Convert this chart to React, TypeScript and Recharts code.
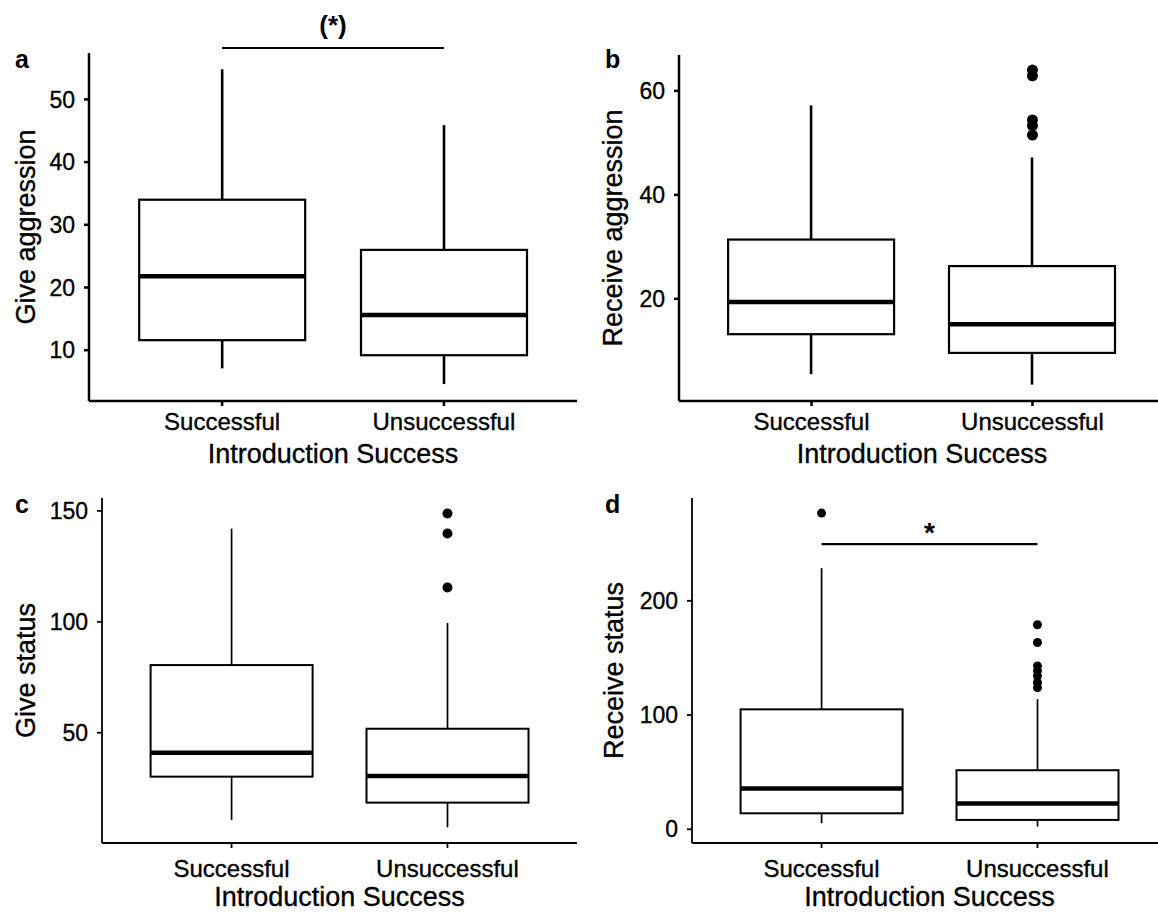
import React from 'react';
import { ComposedChart, Bar, Scatter, XAxis, YAxis, ReferenceLine, Label } from 'recharts';

const categories = ['Successful', 'Unsuccessful'];

// a: Give aggression
const giveAggressionLow = [7.1, 4.6];
const giveAggressionQ1 = [11.6, 9.2];
const giveAggressionMedian = [21.8, 15.6];
const giveAggressionQ3 = [34.0, 26.0];
const giveAggressionHigh = [54.8, 45.9];
const giveAggressionOutliers: number[][] = [[], []];
const giveAggressionTicks = [10, 20, 30, 40, 50];

// b: Receive aggression
const receiveAggressionLow = [5.5, 3.5];
const receiveAggressionQ1 = [13.2, 9.6];
const receiveAggressionMedian = [19.4, 15.1];
const receiveAggressionQ3 = [31.4, 26.3];
const receiveAggressionHigh = [57.2, 47.2];
const receiveAggressionOutliers: number[][] = [[], [64.0, 62.9, 54.4, 53.3, 51.5]];
const receiveAggressionTicks = [20, 40, 60];

// c: Give status
const giveStatusLow = [10.7, 7.4];
const giveStatusQ1 = [30.2, 18.5];
const giveStatusMedian = [41.0, 30.5];
const giveStatusQ3 = [80.5, 51.8];
const giveStatusHigh = [142.0, 99.5];
const giveStatusOutliers: number[][] = [[], [148.8, 139.8, 115.5]];
const giveStatusTicks = [50, 100, 150];

// d: Receive status
const receiveStatusLow = [5.3, 2.3];
const receiveStatusQ1 = [14.0, 8.2];
const receiveStatusMedian = [35.6, 22.5];
const receiveStatusQ3 = [105.0, 51.7];
const receiveStatusHigh = [228.6, 113.9];
const receiveStatusOutliers: number[][] = [[276.8], [179.0, 163.5, 143.0, 138.7, 134.3, 128.5, 124.0]];
const receiveStatusTicks = [0, 100, 200];

const FONT = '"Liberation Sans", Arial, Helvetica, sans-serif';

function buildStats(low: number[], q1: number[], med: number[], q3: number[], high: number[]) {
  return categories.map((name, i) => ({
    x: i + 1,
    name,
    low: low[i],
    q1: q1[i],
    median: med[i],
    q3: q3[i],
    high: high[i],
  }));
}

function buildOutliers(out: number[][]) {
  const res: { x: number; y: number }[] = [];
  out.forEach((arr, i) => arr.forEach((v) => res.push({ x: i + 1, y: v })));
  return res;
}

function makeBoxShape(whiskerW: number, boxW: number, medianW: number) {
  return (props: any) => {
    const { x, y, width, height } = props;
    const p = props.payload ?? props;
    const { low, high, q1, median, q3 } = p;
    const yTop = Math.min(y, y + height);
    const yBot = Math.max(y, y + height);
    const pix = (v: number) => yBot - ((yBot - yTop) * (v - low)) / (high - low);
    const cx = x + width / 2;
    return (
      <g>
        <line x1={cx} x2={cx} y1={pix(high)} y2={pix(q3)} stroke="#000" strokeWidth={whiskerW} />
        <line x1={cx} x2={cx} y1={pix(q1)} y2={pix(low)} stroke="#000" strokeWidth={whiskerW} />
        <rect x={x} y={pix(q3)} width={width} height={pix(q1) - pix(q3)} fill="#fff" stroke="#000" strokeWidth={boxW} />
        <line x1={x} x2={x + width} y1={pix(median)} y2={pix(median)} stroke="#000" strokeWidth={medianW} />
      </g>
    );
  };
}

type Sig = { y: number; text: string; offset: number; fontSize: number };

type PanelProps = {
  left: number;
  top: number;
  width: number;
  height: number;
  marginTop: number;
  marginRight: number;
  yAxisWidth: number;
  xAxisHeight: number;
  domain: [number, number];
  ticks: number[];
  stats: any[];
  outliers: { x: number; y: number }[];
  yTitle: string;
  yTitleOffset: number;
  xTitleOffset: number;
  xTickMargin: number;
  axisW: number;
  boxW: number;
  whiskerW: number;
  dotR: number;
  sig?: Sig;
};

function Panel(p: PanelProps) {
  const heavy = { stroke: '#000', strokeWidth: 0.35 };
  const tickStyle = { fill: '#000', fontSize: 23, fontFamily: FONT, ...heavy };
  const xTickStyle = { fill: '#000', fontSize: 24, fontFamily: FONT, ...heavy };
  const titleStyle = { fill: '#000', fontSize: 27, fontFamily: FONT, textAnchor: 'middle' as const, ...heavy };
  return (
    <div style={{ position: 'absolute', left: p.left, top: p.top }}>
      <ComposedChart
        width={p.width}
        height={p.height}
        data={p.stats}
        margin={{ top: p.marginTop, right: p.marginRight, bottom: 0, left: 0 }}
      >
        <XAxis
          type="number"
          dataKey="x"
          domain={[0.4, 2.6]}
          ticks={[1, 2]}
          allowDataOverflow
          tickFormatter={(v: number) => categories[Math.round(v) - 1]}
          height={p.xAxisHeight}
          axisLine={{ stroke: '#000', strokeWidth: p.axisW }}
          tickLine={{ stroke: '#000', strokeWidth: p.axisW }}
          tickSize={5}
          tickMargin={p.xTickMargin}
          tick={xTickStyle}
          interval={0}
        >
          <Label value="Introduction Success" position="insideBottom" offset={p.xTitleOffset} style={titleStyle} />
        </XAxis>
        <YAxis
          type="number"
          domain={p.domain}
          ticks={p.ticks}
          allowDataOverflow
          width={p.yAxisWidth}
          axisLine={{ stroke: '#000', strokeWidth: p.axisW }}
          tickLine={{ stroke: '#000', strokeWidth: p.axisW }}
          tickSize={5}
          tickMargin={9}
          tick={tickStyle}
          interval={0}
        >
          <Label value={p.yTitle} angle={-90} position="insideLeft" offset={p.yTitleOffset} style={titleStyle} />
        </YAxis>
        <Bar
          dataKey={(d: any) => [d.low, d.high]}
          barSize={Math.round(0.75 * ((p.width - p.marginRight - p.yAxisWidth) / 2.2))}
          shape={makeBoxShape(p.whiskerW, p.boxW, 4.5)}
          isAnimationActive={false}
        />
        <Scatter
          data={p.outliers}
          dataKey="y"
          isAnimationActive={false}
          shape={(s: any) => <circle cx={s.cx} cy={s.cy} r={p.dotR} fill="#000" />}
        />
        {p.sig && (
          <ReferenceLine
            segment={[{ x: 1, y: p.sig.y }, { x: 2, y: p.sig.y }]}
            stroke="#000"
            strokeWidth={2.2}
            ifOverflow="visible"
          >
            <Label
              value={p.sig.text}
              position="top"
              offset={p.sig.offset}
              style={{ fill: '#000', fontSize: p.sig.fontSize, fontWeight: 'bold', fontFamily: FONT }}
            />
          </ReferenceLine>
        )}
      </ComposedChart>
    </div>
  );
}

export default function App() {
  const letterStyle = { fontFamily: FONT, fontWeight: 'bold' as const, fontSize: 25, fill: '#000' };
  return (
    <div
      style={{
        position: 'absolute',
        left: 0,
        top: 0,
        width: 1158,
        height: 916,
        overflow: 'hidden',
        background: '#fff',
        fontFamily: FONT,
      }}
    >
      <Panel
        left={0}
        top={0}
        width={579}
        height={470}
        marginTop={53}
        marginRight={2}
        yAxisWidth={89}
        xAxisHeight={69}
        domain={[1.9, 57.4]}
        ticks={giveAggressionTicks}
        stats={buildStats(giveAggressionLow, giveAggressionQ1, giveAggressionMedian, giveAggressionQ3, giveAggressionHigh)}
        outliers={buildOutliers(giveAggressionOutliers)}
        yTitle="Give aggression"
        yTitleOffset={25}
        xTitleOffset={7}
        xTickMargin={7}
        axisW={2.5}
        boxW={2.2}
        whiskerW={2.6}
        dotR={5}
        sig={{ y: 58.2, text: '(*)', offset: 14, fontSize: 26 }}
      />
      <Panel
        left={579}
        top={0}
        width={586}
        height={470}
        marginTop={55}
        marginRight={0}
        yAxisWidth={100}
        xAxisHeight={69}
        domain={[0.35, 66.9]}
        ticks={receiveAggressionTicks}
        stats={buildStats(receiveAggressionLow, receiveAggressionQ1, receiveAggressionMedian, receiveAggressionQ3, receiveAggressionHigh)}
        outliers={buildOutliers(receiveAggressionOutliers)}
        yTitle="Receive aggression"
        yTitleOffset={33}
        xTitleOffset={7}
        xTickMargin={7}
        axisW={2.5}
        boxW={2.2}
        whiskerW={2.6}
        dotR={5.5}
      />
      <Panel
        left={0}
        top={470}
        width={579}
        height={446}
        marginTop={28}
        marginRight={2}
        yAxisWidth={102}
        xAxisHeight={73}
        domain={[0.3, 155.8]}
        ticks={giveStatusTicks}
        stats={buildStats(giveStatusLow, giveStatusQ1, giveStatusMedian, giveStatusQ3, giveStatusHigh)}
        outliers={buildOutliers(giveStatusOutliers)}
        yTitle="Give status"
        yTitleOffset={25}
        xTitleOffset={10}
        xTickMargin={12}
        axisW={1.8}
        boxW={2}
        whiskerW={1.7}
        dotR={5}
      />
      <Panel
        left={579}
        top={470}
        width={588}
        height={446}
        marginTop={28}
        marginRight={0}
        yAxisWidth={113}
        xAxisHeight={73}
        domain={[-12, 290]}
        ticks={receiveStatusTicks}
        stats={buildStats(receiveStatusLow, receiveStatusQ1, receiveStatusMedian, receiveStatusQ3, receiveStatusHigh)}
        outliers={buildOutliers(receiveStatusOutliers)}
        yTitle="Receive status"
        yTitleOffset={34}
        xTitleOffset={10}
        xTickMargin={12}
        axisW={1.8}
        boxW={2}
        whiskerW={1.7}
        dotR={4.5}
        sig={{ y: 249.6, text: '*', offset: 2, fontSize: 28 }}
      />
      <svg
        width={1158}
        height={916}
        style={{ position: 'absolute', left: 0, top: 0, pointerEvents: 'none' }}
      >
        <text x={15} y={68} style={letterStyle}>a</text>
        <text x={605} y={68} style={letterStyle}>b</text>
        <text x={15} y={513} style={letterStyle}>c</text>
        <text x={605} y={513} style={letterStyle}>d</text>
      </svg>
    </div>
  );
}
